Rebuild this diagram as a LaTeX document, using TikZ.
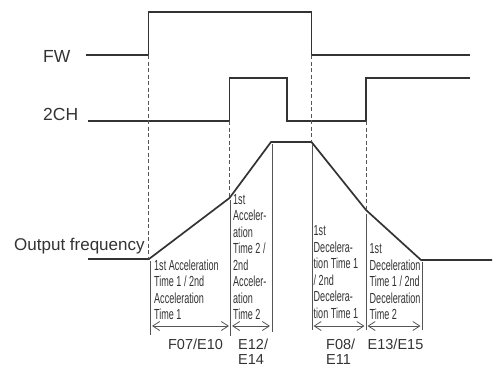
\documentclass[tikz,border=0pt]{standalone}
\usepackage{fontspec}
\usepackage{graphicx}
\setmainfont{Liberation Sans}
\usetikzlibrary{arrows.meta}
\definecolor{ink}{HTML}{333333}
\definecolor{thin}{HTML}{555555}
\newcommand\narrowblock[1]{\scalebox{0.62}[1]{\begin{tabular}[b]{@{}l@{}}#1\end{tabular}}}
\begin{document}
\begin{tikzpicture}[x=1pt,y=-1pt,
  sig/.style={draw=ink, line width=1.7pt, line join=miter},
  guide/.style={draw=thin, line width=0.8pt, dash pattern=on 4pt off 2.5pt},
  bound/.style={draw=thin, line width=0.9pt},
  span/.style={draw=thin, line width=0.8pt, {Straight Barb[length=7pt,width=9pt]}-{Straight Barb[length=7pt,width=9pt]}},
  lbl/.style={font=\fontsize{17.5}{20}\selectfont, text=ink, inner sep=0, anchor=base west},
  code/.style={font=\fontsize{14.5}{16.5}\selectfont, text=ink, inner sep=0},
  desc/.style={font=\fontsize{14.6}{16.5}\selectfont, text=ink, inner sep=0, anchor=south west}]
\useasboundingbox (0,0) rectangle (494,367);
% signal labels
\node[lbl] (fw) at (43,62.5) {FW};
\node[lbl] (ch) at (43,120.5) {2CH};
\node[lbl, font=\fontsize{17}{20}\selectfont] (of) at (14,250) {Output frequency};
% key points
\coordinate (f0) at (86,55);   \coordinate (f1) at (148.5,55); \coordinate (f2) at (148.5,12);
\coordinate (f3) at (311.5,12);  \coordinate (f4) at (311.5,55); \coordinate (f5) at (470,55);
\coordinate (c0) at (88,121);  \coordinate (c1) at (229.5,121); \coordinate (c2) at (229.5,78);
\coordinate (c3) at (287,78);  \coordinate (c4) at (287,121); \coordinate (c5) at (366,121);
\coordinate (c6) at (366,78);  \coordinate (c7) at (470,78);
\coordinate (o0) at (88,259);  \coordinate (o1) at (149,259); \coordinate (o2) at (229.5,198);
\coordinate (o3) at (271,142); \coordinate (o4) at (311.5,142); \coordinate (o5) at (366,210);
\coordinate (o6) at (421,260); \coordinate (o7) at (492,260);
% signals
\draw[sig] (f0) -- (f1) -- (f2) -- (f3) -- (f4) -- (f5);
\draw[sig] (c0) -- (c1) -- (c2) -- (c3) -- (c4) -- (c5) -- (c6) -- (c7);
\draw[sig] (o0) -- (o1) -- (o2) -- (o3) -- (o4) -- (o5) -- (o6) -- (o7);
% dashed guides
\draw[guide] (f1) -- (148.5,259);
\draw[guide] (c1) -- (o2);
\draw[guide] (f4) -- (o4);
\draw[guide] (c5) -- (o5);
% interval boundaries
\coordinate (b1t) at (150.5,261); \coordinate (b1b) at (150.5,335);
\coordinate (b2t) at (230.5,200); \coordinate (b2b) at (230.5,336);
\coordinate (b3t) at (272,144);   \coordinate (b3b) at (272,332);
\coordinate (b4t) at (312,144);   \coordinate (b4b) at (312,330);
\coordinate (b5t) at (366,214);   \coordinate (b5b) at (366,330);
\coordinate (b6t) at (422,262);   \coordinate (b6b) at (422,330);
\foreach \i in {1,...,6} {\draw[bound] (b\i t) -- (b\i b);}
% spans
\coordinate (a1l) at (152,326);   \coordinate (a1r) at (229,326);
\coordinate (a2l) at (232,326);   \coordinate (a2r) at (270,326);
\coordinate (a3l) at (313.5,326); \coordinate (a3r) at (364.5,326);
\coordinate (a4l) at (367.5,326); \coordinate (a4r) at (420.5,326);
\foreach \i in {1,...,4} {\draw[span] (a\i l) -- (a\i r);}
% descriptions
\node[desc] (d1) at (154,325) {\narrowblock{1st Acceleration\\Time 1 / 2nd\\Acceleration\\Time 1}};
\node[desc] (d2) at (233,325) {\narrowblock{1st\\Acceler-\\ation\\Time 2 /\\2nd\\Acceler-\\ation\\Time 2}};
\node[desc] (d3) at (313.5,323.5) {\narrowblock{1st\\Decelera-\\tion Time 1\\/ 2nd\\Decelera-\\tion Time 1}};
\node[desc] (d4) at (369.5,325) {\narrowblock{1st\\Deceleration\\Time 1 / 2nd\\Deceleration\\Time 2}};
% codes
\node[code, anchor=base] (k1) at (195.5,349.5) {F07/E10};
\node[code, anchor=base west] (k2a) at (238,349.5) {E12/};
\node[code, anchor=base west] (k2b) at (238,364) {E14};
\node[code, anchor=base west] (k3a) at (326,349.5) {F08/};
\node[code, anchor=base west] (k3b) at (326,364) {E11};
\node[code, anchor=base] (k4) at (395.5,349.5) {E13/E15};
\end{tikzpicture}
\end{document}
